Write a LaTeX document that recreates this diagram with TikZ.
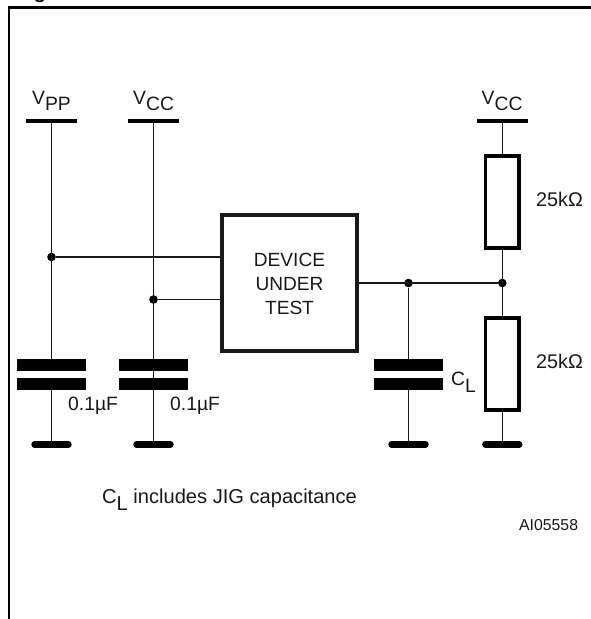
\documentclass[tikz,border=0pt]{standalone}
\usepackage{fontspec}
\setmainfont{Liberation Sans}
\newcommand{\lowsub}[1]{\raisebox{-6.5pt}{#1}}
\tikzset{
  lbl/.style={anchor=base west,inner sep=0pt,font=\fontsize{19.3}{24}\selectfont,text=black!90},
  wire/.style={line width=1.5pt,black!90},
  rail/.style={line width=4pt,black},
  gnd/.style={line width=6.4pt,line cap=round,black},
  plate/.style={fill=black,draw=none,minimum width=69pt,minimum height=12.5pt,inner sep=0pt},
  dot/.style={circle,fill=black,draw=none,minimum size=8.6pt,inner sep=0pt},
  resbox/.style={draw=black,line width=3.6pt,fill=none,minimum width=33.4pt,minimum height=92.4pt,inner sep=0pt},
  dut/.style={draw=black!90,line width=3.6pt,fill=none,minimum width=135pt,minimum height=136pt,inner sep=0pt,align=center,font=\fontsize{19.1}{24}\selectfont,text=black!90},
  frameln/.style={line width=2.4pt,black}
}
\begin{document}
\begin{tikzpicture}[x=1pt,y=-1pt]
\useasboundingbox (0,0) rectangle (591,619);
\clip (0,0) rectangle (591,619);
% frame
\coordinate (fA) at (9,619);
\coordinate (fB) at (9,7.5);
\coordinate (fC) at (591,7.5);
\draw[frameln,line join=miter] (fA) -- (fB) -- (fC);
\node[anchor=base,inner sep=0pt,font=\bfseries\fontsize{20}{24}\selectfont] (fig) at (40,-1.5) {g};
% rails
\coordinate (r1) at (51.5,121); \coordinate (r2) at (153.5,121); \coordinate (r3) at (502,121);
\coordinate (r1a) at (26,121); \coordinate (r1b) at (77,121);
\coordinate (r2a) at (128,121); \coordinate (r2b) at (179,121);
\coordinate (r3a) at (477,121); \coordinate (r3b) at (528,121);
\draw[rail] (r1a) -- (r1b);
\draw[rail] (r2a) -- (r2b);
\draw[rail] (r3a) -- (r3b);
% device
\node[dut] (dut) at (289.5,283) {};
\node[inner sep=0pt,align=center,font=\fontsize{19.1}{24}\selectfont,text=black!90] (dutlbl) at (289.5,284) {DEVICE\\UNDER\\TEST};
% caps
\node[plate] (c1t) at (51.5,365) {}; \node[plate] (c1b) at (51.5,384) {};
\node[plate] (c2t) at (153.5,365) {}; \node[plate] (c2b) at (153.5,384) {};
\node[plate] (c3t) at (408.5,365) {}; \node[plate] (c3b) at (408.5,384) {};
% resistors
\node[resbox] (r1box) at (502.3,202) {};
\node[resbox] (r2box) at (502.3,364) {};
% junctions
\node[dot] (j1) at (51.5,257) {};
\node[dot] (j2) at (153.5,299.5) {};
\node[dot] (j3) at (408.5,283) {};
\node[dot] (j4) at (502.3,283) {};
% grounds
\coordinate (g1) at (51.5,444.5); \coordinate (g2) at (153.5,444.5); \coordinate (g3) at (408.5,444.5); \coordinate (g4) at (502.3,444.5);
\draw[gnd] ([xshift=-17pt]g1) -- ([xshift=17pt]g1);
\draw[gnd] ([xshift=-17pt]g2) -- ([xshift=17pt]g2);
\draw[gnd] ([xshift=-17pt]g3) -- ([xshift=17pt]g3);
\draw[gnd] ([xshift=-17pt]g4) -- ([xshift=17pt]g4);
% wires
\draw[wire] (r1) -- (c1t.north);
\draw[wire] (c1b.south) -- (g1);
\draw[wire] (r2) -- (c2t.north);
\draw[wire] (c2t.south) -- (c2b.north);
\draw[wire] (c2b.south) -- (g2);
\draw[wire] (j1) -- (j1 -| dut.west);
\draw[wire] (j2) -- (j2 -| dut.west);
\draw[wire] (dut.east) -- (j4);
\draw[wire] (j3) -- (c3t.north);
\draw[wire] (c3b.south) -- (g3);
\draw[wire] (r3 -| r1box.north) -- (r1box.north);
\draw[wire] (r1box.south) -- (r2box.north);
\draw[wire] (r2box.south) -- (g4);
% labels
\node[lbl] (tvpp) at (32,104) {V\lowsub{PP}};
\node[lbl] (tvcc) at (133,104) {V\lowsub{CC}};
\node[lbl] (tvcr) at (481.5,104) {V\lowsub{CC}};
\node[lbl] (tc1) at (68,410.5) {0.1µF};
\node[lbl] (tc2) at (170,410.5) {0.1µF};
\node[lbl] (tcl) at (451,385.5) {C\lowsub{L}};
\node[lbl,font=\fontsize{19.8}{24}\selectfont] (tr1) at (536,206.5) {25kΩ};
\node[lbl,font=\fontsize{19.8}{24}\selectfont] (tr2) at (536,368.5) {25kΩ};
\node[lbl,font=\fontsize{20.1}{24}\selectfont] (tnote) at (102,503.5) {C\lowsub{L} includes JIG capacitance};
\node[lbl,font=\fontsize{15.8}{18}\selectfont] (tid) at (519,530.5) {AI05558};
\end{tikzpicture}
\end{document}
